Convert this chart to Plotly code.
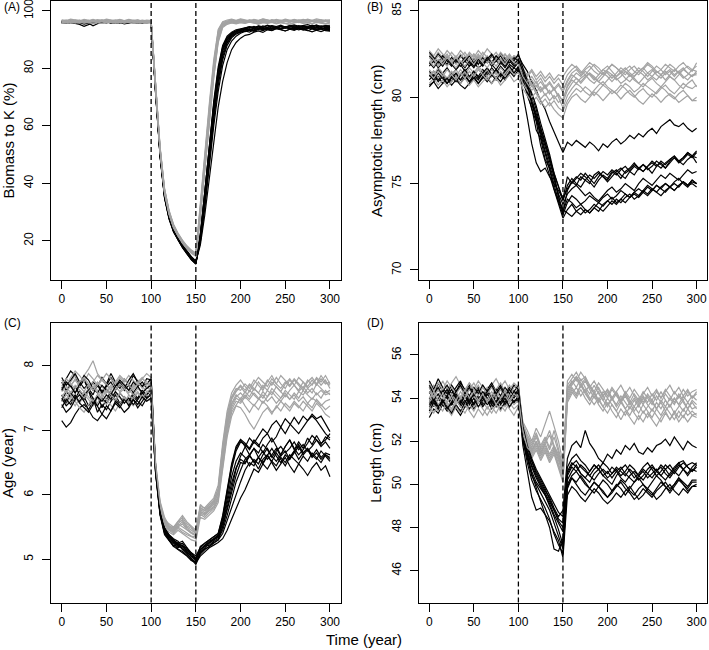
import plotly.graph_objects as go

# ---------------- data (5-year resolution) ----------------
YEARS = [0, 5, 10, 15, 20, 25, 30, 35, 40, 45, 50, 55, 60, 65, 70, 75, 80, 85, 90, 95, 100,
         105, 110, 115, 120, 125, 130, 135, 140, 145, 150,
         155, 160, 165, 170, 175, 180, 185, 190, 195, 200, 205, 210, 215, 220, 225, 230, 235, 240, 245, 250,
         255, 260, 265, 270, 275, 280, 285, 290, 295, 300]

X_TICKS = [0, 50, 100, 150, 200, 250, 300]
PERIOD_LINES = [100, 150]

# (A) Biomass to K (%)
BIOMASS_BLACK = [
    [96.2, 95.9, 96.4, 96.0, 95.7, 96.3, 96.1, 95.8, 96.5, 96.2, 96.0, 95.9, 96.3, 96.1, 95.8, 96.4, 96.0, 96.2, 95.9, 96.3, 96.0,
     71.5, 49.8, 35.2, 28.0, 23.5, 20.6, 18.2, 16.0, 14.1, 12.4,
     22.0, 36.0, 52.0, 67.0, 79.0, 87.0, 90.5, 92.0, 92.8, 93.2, 93.5, 93.2, 94.0, 93.6, 94.2, 93.8, 94.4, 94.0, 93.7, 94.3,
     94.1, 93.9, 94.5, 94.2, 93.8, 94.4, 94.0, 94.6, 94.2, 94.3],
    [95.8, 96.1, 95.6, 96.0, 95.9, 95.4, 95.7, 94.8, 95.5, 96.0, 95.8, 96.2, 95.7, 96.0, 95.5, 95.9, 96.1, 95.7, 96.0, 95.8, 96.1,
     72.0, 50.5, 35.8, 28.4, 23.8, 20.9, 18.0, 15.8, 13.6, 12.0,
     20.5, 33.5, 49.0, 63.5, 75.5, 84.0, 88.8, 91.0, 92.2, 92.7, 92.9, 93.5, 93.1, 93.8, 94.0, 93.5, 93.9, 94.3, 93.6, 94.1,
     93.8, 94.4, 93.9, 93.3, 93.8, 94.2, 93.7, 94.0, 93.5, 93.6],
    [96.5, 96.3, 96.0, 96.6, 96.2, 96.4, 95.9, 96.1, 96.5, 96.3, 96.7, 96.2, 96.4, 96.0, 96.3, 96.6, 96.1, 96.4, 96.2, 96.5, 96.3,
     71.0, 49.2, 34.9, 27.6, 23.1, 20.2, 17.6, 15.5, 13.4, 11.9,
     21.0, 35.0, 51.0, 66.0, 78.0, 86.0, 89.8, 91.6, 92.8, 93.2, 93.6, 94.2, 94.6, 94.0, 94.8, 94.3, 94.9, 94.5, 95.0, 94.4,
     94.8, 95.1, 94.6, 94.9, 95.2, 94.7, 95.0, 94.5, 94.9, 95.0],
    [96.0, 95.7, 96.2, 95.9, 96.3, 96.0, 95.6, 95.9, 96.2, 95.8, 96.1, 96.4, 95.9, 96.2, 96.0, 95.7, 96.3, 96.0, 95.8, 96.1, 95.9,
     72.5, 51.0, 36.5, 29.0, 24.2, 21.3, 18.7, 16.4, 14.3, 12.8,
     18.5, 29.0, 42.0, 55.0, 66.5, 75.5, 82.0, 86.5, 89.0, 90.5, 91.5, 91.8, 92.6, 93.0, 92.5, 93.4, 93.1, 93.8, 93.3, 93.0,
     93.6, 93.2, 93.9, 93.4, 93.1, 93.7, 93.3, 92.8, 93.4, 93.1],
    [96.3, 96.0, 95.8, 96.2, 96.5, 96.1, 95.9, 96.3, 96.0, 96.4, 96.2, 95.8, 96.1, 96.4, 96.0, 96.3, 95.9, 96.2, 96.5, 96.0, 96.2,
     71.8, 50.2, 35.5, 28.2, 23.6, 20.4, 17.9, 15.7, 13.8, 12.2,
     21.5, 35.5, 51.5, 66.5, 78.5, 86.5, 90.0, 92.0, 92.9, 93.3, 93.8, 93.4, 94.1, 94.5, 93.9, 94.3, 94.8, 94.2, 94.6, 94.0,
     94.5, 94.9, 94.3, 94.7, 94.1, 94.6, 95.0, 94.4, 94.8, 94.6],
    [95.9, 96.3, 96.0, 95.7, 95.3, 94.6, 95.2, 95.8, 96.1, 95.9, 96.3, 96.0, 95.7, 96.2, 96.0, 96.4, 95.8, 96.1, 95.9, 96.3, 96.0,
     72.2, 50.8, 36.0, 28.6, 24.0, 21.0, 18.4, 16.2, 14.0, 12.6,
     19.5, 31.5, 46.0, 60.0, 72.0, 81.0, 86.5, 89.5, 91.2, 92.2, 92.8, 93.3, 92.9, 93.5, 93.1, 93.7, 93.2, 93.9, 93.5, 93.0,
     93.6, 94.0, 93.4, 93.8, 93.2, 92.7, 93.3, 93.7, 93.1, 92.9],
    [96.4, 96.1, 96.5, 96.2, 95.9, 96.3, 96.6, 96.1, 96.4, 96.0, 96.3, 96.6, 96.2, 95.9, 96.4, 96.1, 96.5, 96.2, 96.0, 96.4, 96.2,
     71.2, 49.5, 35.0, 27.8, 23.3, 20.3, 17.8, 15.6, 13.5, 12.1,
     22.5, 37.0, 53.5, 68.5, 80.5, 88.0, 91.2, 92.6, 93.4, 93.7, 94.0, 94.4, 94.0, 94.7, 94.3, 94.9, 94.4, 94.0, 94.6, 94.2,
     94.8, 94.3, 94.9, 94.5, 94.1, 94.7, 94.3, 94.8, 94.4, 94.5],
    [96.1, 95.8, 96.3, 96.0, 96.2, 95.9, 96.1, 96.4, 95.8, 96.2, 95.9, 96.3, 96.0, 95.8, 96.2, 96.5, 96.0, 95.8, 96.3, 96.1, 96.1,
     72.6, 51.2, 36.8, 29.3, 24.5, 21.5, 18.9, 16.6, 14.5, 13.0,
     20.0, 32.5, 47.5, 62.0, 74.0, 83.0, 88.0, 90.6, 91.9, 92.6, 93.0, 92.6, 93.4, 93.9, 93.4, 94.0, 93.6, 94.2, 93.8, 94.4,
     93.9, 93.5, 94.1, 93.7, 94.3, 93.8, 94.2, 93.6, 94.0, 93.8],
    [95.7, 96.0, 96.2, 95.8, 96.1, 96.4, 96.0, 95.7, 96.1, 95.9, 96.2, 95.8, 96.1, 96.3, 95.9, 96.2, 96.0, 96.3, 95.9, 96.2, 96.0,
     71.6, 50.0, 35.6, 28.3, 23.9, 20.8, 18.3, 16.1, 14.0, 12.5,
     20.8, 34.0, 49.5, 64.5, 76.5, 85.0, 89.2, 91.3, 92.4, 92.9, 93.2, 93.8, 93.3, 94.0, 93.6, 94.2, 93.7, 94.3, 93.9, 94.5,
     94.0, 93.6, 94.2, 93.8, 94.4, 94.0, 93.5, 94.1, 93.7, 93.5],
    [96.2, 96.5, 96.1, 96.4, 96.0, 96.3, 96.1, 96.5, 96.2, 96.0, 96.4, 96.1, 96.5, 96.2, 95.9, 96.3, 96.6, 96.1, 96.4, 96.2, 96.4,
     71.4, 49.6, 35.3, 28.1, 23.4, 20.5, 18.1, 15.9, 13.9, 12.3,
     21.8, 36.5, 52.5, 67.5, 79.5, 87.5, 90.8, 92.3, 93.1, 93.5, 93.9, 94.5, 94.1, 94.8, 94.4, 95.0, 94.5, 94.1, 94.7, 94.3,
     94.9, 94.5, 94.1, 94.8, 94.4, 95.0, 94.6, 94.2, 94.8, 94.0],
]
BIOMASS_GRAY = [
    [96.5, 96.8, 96.3, 96.9, 96.6, 96.2, 96.7, 96.4, 96.9, 96.5, 96.8, 96.3, 96.6, 97.0, 96.5, 96.8, 96.4, 96.7, 96.3, 96.6, 96.5,
     73.0, 52.0, 37.5, 30.0, 25.2, 22.2, 19.8, 17.8, 16.3, 15.2,
     31.0, 48.5, 65.0, 80.5, 92.0, 95.5, 96.2, 96.6, 96.3, 96.8, 96.4, 96.9, 96.5, 96.2, 96.7, 96.4, 96.9, 96.5, 96.8, 96.3,
     96.6, 97.0, 96.5, 96.8, 96.4, 96.7, 96.3, 96.9, 96.5, 96.6],
    [96.0, 95.7, 96.2, 95.9, 96.4, 96.1, 95.8, 96.3, 96.0, 95.6, 96.1, 96.4, 95.9, 96.2, 95.8, 96.3, 96.0, 95.7, 96.2, 95.9, 96.1,
     72.8, 51.6, 37.0, 29.6, 24.9, 21.9, 19.5, 17.5, 16.0, 15.0,
     29.5, 46.5, 63.0, 78.5, 90.5, 95.0, 95.7, 96.1, 95.8, 96.2, 95.9, 96.4, 96.0, 95.7, 96.2, 95.9, 96.3, 95.8, 96.1, 95.6,
     96.0, 96.4, 95.9, 96.2, 95.8, 96.3, 95.9, 96.1, 95.7, 96.0],
    [96.7, 96.4, 96.9, 96.6, 96.3, 96.8, 96.5, 97.0, 96.6, 96.9, 96.4, 96.7, 96.3, 96.8, 96.5, 96.2, 96.7, 96.9, 96.4, 96.8, 96.6,
     73.4, 52.5, 38.0, 30.4, 25.6, 22.5, 20.1, 18.1, 16.6, 15.6,
     32.0, 50.0, 66.5, 82.0, 93.0, 96.0, 96.5, 96.9, 96.5, 97.0, 96.6, 96.3, 96.8, 96.5, 97.1, 96.7, 96.4, 96.9, 96.5, 96.8,
     96.4, 96.9, 96.6, 97.0, 96.7, 96.3, 96.8, 96.5, 96.9, 96.7],
    [95.8, 96.1, 95.6, 96.0, 95.7, 96.2, 95.9, 95.5, 96.0, 96.3, 95.8, 96.1, 95.7, 96.0, 96.3, 95.9, 95.6, 96.1, 95.8, 96.2, 96.0,
     72.6, 51.3, 36.8, 29.4, 24.7, 21.7, 19.3, 17.3, 15.8, 14.8,
     28.5, 45.0, 61.5, 77.0, 89.5, 94.5, 95.5, 95.9, 95.6, 96.0, 95.7, 96.2, 95.8, 95.5, 96.0, 95.7, 96.1, 95.6, 96.0, 95.8,
     95.4, 95.9, 96.2, 95.7, 96.0, 95.6, 96.1, 95.8, 95.5, 95.9],
    [96.4, 96.7, 96.2, 96.5, 96.8, 96.3, 96.6, 96.1, 96.5, 96.8, 96.4, 96.7, 96.2, 96.6, 96.3, 96.7, 96.4, 96.1, 96.6, 96.3, 96.4,
     73.1, 52.2, 37.7, 30.1, 25.3, 22.3, 19.9, 17.9, 16.4, 15.4,
     30.5, 47.5, 64.0, 79.5, 91.5, 95.3, 96.0, 96.4, 96.1, 96.6, 96.2, 96.7, 96.3, 96.0, 96.5, 96.2, 96.8, 96.4, 96.1, 96.6,
     96.3, 96.8, 96.4, 96.1, 96.7, 96.3, 96.6, 96.2, 96.7, 96.4],
    [96.1, 96.4, 96.0, 96.3, 95.9, 96.5, 96.2, 96.6, 96.1, 96.4, 96.0, 96.3, 96.6, 96.2, 96.5, 96.1, 96.4, 96.0, 96.3, 96.5, 96.2,
     72.9, 51.8, 37.3, 29.8, 25.0, 22.0, 19.6, 17.6, 16.1, 15.1,
     29.0, 46.0, 62.5, 78.0, 90.0, 94.8, 95.8, 96.3, 96.0, 96.5, 96.1, 96.6, 96.2, 95.9, 96.4, 96.1, 96.7, 96.3, 96.0, 96.5,
     96.2, 96.6, 96.1, 96.4, 96.0, 96.5, 96.2, 96.7, 96.3, 96.1],
    [96.9, 96.6, 97.1, 96.8, 96.5, 97.0, 96.7, 96.4, 96.9, 96.6, 97.1, 96.8, 96.5, 96.9, 96.6, 97.0, 96.7, 96.4, 96.8, 96.5, 96.7,
     73.6, 52.8, 38.3, 30.7, 25.8, 22.7, 20.3, 18.3, 16.8, 15.8,
     33.0, 51.0, 67.5, 83.0, 93.5, 96.2, 96.8, 97.1, 96.7, 97.2, 96.8, 96.5, 97.0, 96.7, 97.2, 96.8, 96.5, 97.0, 96.6, 97.1,
     96.7, 96.4, 96.9, 96.6, 97.1, 96.7, 97.2, 96.8, 96.5, 96.9],
    [95.6, 95.9, 96.2, 95.8, 96.1, 95.7, 96.0, 96.3, 95.9, 95.6, 96.0, 96.2, 95.8, 96.1, 95.7, 96.0, 96.3, 95.9, 96.1, 95.7, 95.9,
     72.4, 51.0, 36.5, 29.2, 24.5, 21.6, 19.2, 17.2, 15.7, 14.7,
     28.0, 44.5, 61.0, 76.5, 89.0, 94.2, 95.3, 95.8, 95.5, 95.9, 95.6, 96.1, 95.7, 95.4, 95.9, 95.6, 96.0, 95.5, 95.9, 95.7,
     95.3, 95.8, 96.1, 95.6, 95.9, 95.5, 96.0, 95.7, 95.4, 95.8],
    [96.3, 96.0, 96.5, 96.2, 96.6, 96.3, 96.0, 96.4, 96.7, 96.2, 96.5, 96.1, 96.4, 96.7, 96.3, 96.6, 96.2, 96.5, 96.1, 96.4, 96.3,
     73.2, 52.3, 37.8, 30.2, 25.4, 22.4, 20.0, 18.0, 16.5, 15.5,
     31.5, 49.0, 65.5, 81.0, 92.5, 95.7, 96.3, 96.7, 96.4, 96.9, 96.5, 96.1, 96.6, 96.3, 96.8, 96.4, 96.1, 96.7, 96.3, 96.8,
     96.5, 96.2, 96.7, 96.4, 96.9, 96.5, 96.2, 96.6, 96.3, 96.5],
    [96.6, 96.3, 96.8, 96.4, 96.7, 96.2, 96.5, 96.9, 96.4, 96.7, 96.3, 96.6, 96.9, 96.5, 96.2, 96.7, 96.4, 96.8, 96.5, 96.2, 96.5,
     72.7, 51.5, 36.9, 29.5, 24.8, 21.8, 19.4, 17.4, 15.9, 14.9,
     30.0, 47.0, 63.5, 79.0, 91.0, 95.2, 96.0, 96.5, 96.2, 96.7, 96.3, 96.8, 96.4, 96.1, 96.6, 96.3, 96.9, 96.5, 96.2, 96.7,
     96.4, 96.9, 96.5, 96.2, 96.7, 96.4, 96.8, 96.3, 96.6, 96.4],
]

# (B) Asymptotic length (cm)
LINF_BLACK = [
    [81.2, 81.5, 81.0, 81.4, 81.7, 81.3, 81.6, 81.9, 81.5, 81.8, 82.0, 81.7, 81.9, 82.2, 81.8, 82.1, 81.9, 82.3, 82.0, 82.2, 82.4,
     81.9, 81.5, 80.9, 80.4, 79.8, 79.3, 78.6, 78.0, 77.5, 76.8,
     77.4, 77.2, 77.5, 77.3, 77.1, 77.4, 77.2, 76.9, 77.3, 77.1, 77.4, 77.6, 77.3, 77.5, 77.8, 77.6, 77.9, 77.7, 78.0, 78.2,
     77.9, 78.3, 78.5, 78.7, 78.4, 78.3, 78.5, 78.2, 78.0, 78.2],
    [80.7, 80.9, 81.2, 80.8, 81.1, 80.9, 81.3, 81.0, 81.4, 81.1, 81.5, 81.2, 81.6, 81.3, 81.7, 81.4, 81.8, 81.5, 81.9, 81.7, 82.0,
     80.2, 78.8, 77.3, 76.2, 75.7, 75.9, 75.4, 75.0, 74.6, 74.1,
     74.7, 75.1, 74.9, 75.4, 75.2, 75.0, 75.5, 75.7, 75.4, 75.2, 75.6, 75.8, 75.5, 75.3, 75.7, 76.0, 75.8, 76.1, 75.9, 75.6,
     76.0, 76.2, 75.9, 76.3, 76.5, 76.2, 76.4, 76.7, 76.5, 76.8],
    [81.5, 81.2, 81.6, 81.3, 81.0, 81.4, 81.1, 80.8, 81.2, 80.9, 81.3, 81.0, 81.4, 81.1, 80.8, 81.2, 80.9, 81.3, 81.6, 81.4, 81.8,
     81.0, 80.4, 79.7, 78.9, 78.0, 77.2, 76.2, 75.4, 74.2, 73.4,
     74.1, 73.9, 73.6, 73.8, 73.5, 73.3, 73.6, 73.9, 73.7, 74.0, 74.2, 73.9, 74.1, 74.4, 74.2, 74.5, 74.3, 74.6, 74.9, 74.7,
     74.5, 74.8, 75.0, 74.8, 75.1, 75.3, 75.0, 74.8, 75.1, 75.0],
    [82.4, 82.1, 82.5, 82.2, 81.9, 82.3, 82.0, 82.4, 82.1, 81.8, 82.2, 81.9, 82.3, 82.0, 82.4, 82.1, 82.5, 82.2, 82.0, 82.3, 82.1,
     81.6, 80.9, 80.1, 79.3, 78.2, 77.3, 76.4, 75.6, 74.8, 74.0,
     74.9, 75.3, 75.0, 74.8, 75.2, 75.5, 75.3, 75.6, 75.4, 75.1, 75.4, 75.7, 75.9, 75.6, 75.8, 76.1, 75.9, 75.7, 76.0, 76.2,
     76.0, 76.3, 76.1, 76.4, 76.6, 76.3, 76.5, 76.8, 76.6, 76.5],
    [81.0, 81.3, 80.9, 81.2, 80.8, 81.1, 81.4, 81.0, 81.3, 80.9, 81.2, 80.8, 81.1, 81.5, 81.2, 81.6, 81.3, 81.0, 81.4, 81.7, 81.5,
     80.8, 80.3, 79.3, 78.6, 77.2, 76.3, 75.5, 74.6, 73.8, 73.0,
     73.5, 73.8, 73.4, 73.2, 73.5, 73.3, 73.6, 73.4, 73.8, 74.0, 73.8, 74.1, 73.9, 74.2, 74.4, 74.1, 74.3, 74.6, 74.4, 74.7,
     74.5, 74.3, 74.6, 74.8, 75.0, 74.8, 75.1, 74.9, 75.2, 75.0],
    [82.6, 82.3, 82.0, 82.4, 82.1, 81.8, 82.2, 81.9, 82.3, 82.0, 81.7, 82.1, 81.8, 82.2, 81.9, 81.6, 82.0, 81.7, 82.1, 81.8, 82.0,
     81.2, 80.7, 79.9, 79.0, 78.3, 77.4, 76.5, 75.5, 74.3, 73.3,
     74.6, 75.1, 75.4, 75.2, 75.6, 75.3, 75.0, 75.4, 75.7, 75.5, 75.8, 75.6, 75.3, 75.7, 75.9, 76.2, 75.9, 75.7, 76.0, 76.3,
     76.1, 75.9, 76.2, 76.4, 76.6, 76.3, 76.5, 76.8, 76.6, 76.9],
    [80.6, 80.9, 80.5, 80.8, 81.1, 80.7, 81.0, 80.7, 80.5, 80.8, 81.1, 80.8, 81.2, 80.9, 81.3, 81.0, 81.4, 81.1, 81.5, 81.2, 81.6,
     81.1, 80.1, 79.4, 78.1, 77.6, 76.4, 75.9, 74.9, 74.0, 73.5,
     73.3, 73.1, 73.4, 73.6, 73.3, 73.5, 73.8, 73.6, 73.4, 73.7, 74.0, 73.8, 74.1, 73.9, 74.2, 74.4, 74.2, 74.5, 74.3, 74.6,
     74.9, 74.7, 74.5, 74.8, 74.6, 74.9, 75.1, 74.9, 75.2, 75.0],
    [81.8, 82.1, 81.7, 82.0, 82.3, 81.9, 82.2, 81.8, 82.1, 82.4, 82.0, 82.3, 81.9, 82.2, 82.5, 82.1, 82.4, 82.0, 82.3, 82.1, 82.5,
     81.7, 81.0, 80.2, 79.5, 78.5, 77.6, 76.7, 75.6, 74.9, 74.1,
     75.4, 75.0, 75.3, 75.6, 75.4, 75.1, 74.8, 75.2, 75.5, 75.3, 75.7, 75.5, 75.8, 76.0, 75.7, 75.5, 75.9, 76.1, 75.8, 76.0,
     76.3, 76.1, 75.9, 76.2, 76.5, 76.3, 76.1, 76.4, 76.6, 76.2],
    [81.3, 81.0, 81.4, 81.1, 80.8, 81.2, 80.9, 81.3, 81.6, 81.2, 81.5, 81.1, 81.4, 81.7, 81.3, 81.6, 81.2, 81.5, 81.8, 81.4, 81.7,
     81.3, 80.6, 79.8, 78.7, 77.9, 76.9, 76.0, 75.2, 74.4, 73.8,
     74.4, 74.7, 74.9, 74.6, 74.3, 74.5, 74.2, 74.0, 74.3, 74.6, 74.8, 74.5, 74.7, 75.0, 74.8, 74.6, 75.0, 75.3, 75.1, 74.9,
     75.2, 75.5, 75.3, 75.6, 75.4, 75.2, 75.5, 75.8, 75.6, 75.7],
    [82.0, 81.7, 82.1, 81.8, 82.2, 81.9, 81.6, 82.0, 81.7, 82.1, 81.8, 82.2, 81.9, 82.3, 82.0, 82.4, 82.1, 81.8, 82.2, 81.9, 82.2,
     81.5, 80.8, 79.6, 78.8, 77.7, 76.8, 75.8, 74.7, 73.9, 73.2,
     73.9, 74.3, 74.1, 73.8, 74.0, 74.3, 74.1, 73.9, 74.2, 74.4, 74.1, 74.3, 74.6, 74.4, 74.2, 74.5, 74.7, 74.5, 74.8, 74.6,
     74.9, 74.7, 75.0, 74.8, 74.6, 74.9, 75.1, 74.9, 75.0, 74.8],
]
LINF_GRAY = [
    [82.5, 82.2, 82.6, 82.3, 82.7, 82.4, 82.1, 82.5, 82.2, 82.6, 82.3, 82.7, 82.4, 82.8, 82.5, 82.2, 82.6, 82.3, 82.0, 82.4, 82.2,
     81.7, 81.2, 81.5, 81.0, 81.3, 80.9, 81.2, 80.8, 81.1, 80.7,
     81.3, 81.6, 81.8, 81.5, 81.3, 81.6, 81.9, 81.7, 81.4, 81.6, 81.9, 81.7, 81.5, 81.3, 81.6, 81.8, 81.5, 81.7, 82.0, 81.8,
     81.5, 81.3, 81.6, 81.9, 81.7, 81.4, 81.6, 81.8, 81.6, 81.8],
    [82.0, 82.3, 81.9, 82.2, 82.5, 82.1, 82.4, 82.0, 82.3, 81.9, 82.2, 82.5, 82.1, 82.4, 82.0, 82.3, 81.9, 82.2, 82.5, 82.1, 82.0,
     81.4, 81.0, 80.6, 80.9, 80.4, 80.7, 80.2, 80.5, 80.0, 79.4,
     80.1, 80.5, 80.8, 80.6, 80.3, 80.1, 80.4, 80.7, 80.9, 80.6, 80.4, 80.2, 80.5, 80.8, 80.6, 80.3, 80.5, 80.8, 80.6, 80.4,
     80.2, 80.5, 80.7, 80.4, 80.2, 80.5, 80.8, 80.6, 80.5, 80.7],
    [81.6, 81.3, 81.7, 81.4, 81.1, 81.5, 81.2, 81.6, 81.3, 81.7, 81.4, 81.8, 81.5, 81.2, 81.6, 81.3, 81.7, 81.4, 81.8, 81.5, 81.6,
     81.0, 80.5, 80.8, 80.3, 80.6, 80.1, 80.4, 79.9, 80.2, 79.7,
     80.4, 80.8, 81.1, 80.9, 81.2, 81.4, 81.1, 80.9, 81.2, 81.5, 81.3, 81.0, 81.2, 81.5, 81.3, 81.0, 80.8, 81.1, 81.4, 81.2,
     81.0, 81.3, 81.5, 81.2, 81.0, 81.3, 81.6, 81.4, 81.2, 81.4],
    [82.7, 82.4, 82.8, 82.5, 82.2, 82.6, 82.3, 82.7, 82.4, 82.1, 82.5, 82.2, 82.6, 82.3, 82.0, 82.4, 82.1, 82.5, 82.2, 81.9, 82.1,
     81.5, 81.1, 80.7, 80.2, 79.8, 79.4, 79.7, 79.3, 79.0, 78.8,
     79.6, 80.0, 80.2, 79.9, 79.7, 80.0, 80.3, 80.1, 79.8, 80.1, 80.4, 80.2, 79.9, 80.2, 80.4, 80.1, 79.8, 79.6, 79.9, 80.2,
     80.0, 79.7, 80.0, 80.2, 80.0, 79.7, 79.9, 80.1, 79.8, 79.8],
    [81.2, 81.5, 81.1, 81.4, 81.0, 81.3, 81.6, 81.2, 81.5, 81.1, 81.4, 81.7, 81.3, 81.6, 81.2, 81.5, 81.1, 81.4, 81.7, 81.3, 81.5,
     81.1, 80.7, 81.0, 80.6, 80.9, 80.5, 80.8, 80.4, 80.7, 80.3,
     80.9, 81.3, 81.1, 80.8, 81.1, 81.4, 81.2, 80.9, 80.7, 81.0, 81.3, 81.1, 80.8, 81.0, 81.3, 81.1, 80.8, 80.6, 80.9, 81.1,
     80.8, 80.6, 80.9, 81.2, 81.0, 80.7, 80.5, 80.8, 81.0, 80.6],
    [82.3, 82.0, 82.4, 82.1, 81.8, 82.2, 81.9, 82.3, 82.6, 82.2, 82.5, 82.1, 82.4, 82.0, 82.3, 82.6, 82.2, 82.5, 82.1, 82.4, 82.3,
     81.6, 81.3, 81.6, 81.2, 81.5, 81.1, 81.4, 81.0, 81.3, 81.2,
     81.6, 81.9, 81.7, 81.4, 81.7, 82.0, 81.8, 81.5, 81.3, 81.6, 81.9, 81.7, 81.4, 81.6, 81.8, 81.5, 81.3, 81.6, 81.9, 81.7,
     81.4, 81.6, 81.9, 81.7, 81.5, 81.8, 82.0, 81.7, 81.5, 82.0],
    [80.8, 81.1, 80.7, 81.0, 80.6, 80.9, 81.2, 80.8, 81.1, 80.7, 81.0, 80.6, 80.9, 81.2, 80.8, 81.1, 80.7, 81.0, 81.3, 80.9, 81.1,
     80.5, 80.1, 79.7, 80.0, 79.6, 79.9, 79.5, 79.8, 79.4, 79.2,
     79.8, 80.2, 80.5, 80.3, 80.6, 80.4, 80.1, 80.4, 80.7, 80.5, 80.2, 80.4, 80.7, 80.5, 80.2, 80.0, 80.3, 80.5, 80.2, 80.0,
     80.3, 80.6, 80.4, 80.1, 79.9, 80.2, 80.4, 80.1, 79.8, 80.0],
    [81.9, 82.2, 81.8, 82.1, 82.4, 82.0, 82.3, 81.9, 82.2, 82.5, 82.1, 82.4, 82.0, 82.3, 81.9, 82.2, 82.5, 82.1, 82.4, 82.0, 82.2,
     81.3, 80.9, 81.2, 80.8, 81.1, 80.6, 80.9, 80.5, 80.8, 80.4,
     81.0, 81.4, 81.6, 81.3, 81.6, 81.8, 81.5, 81.3, 81.6, 81.8, 81.5, 81.2, 81.5, 81.7, 81.4, 81.2, 81.5, 81.7, 81.4, 81.6,
     81.3, 81.1, 81.4, 81.6, 81.3, 81.5, 81.2, 81.0, 81.3, 81.3],
    [81.4, 81.1, 81.5, 81.2, 81.6, 81.3, 81.0, 81.4, 81.1, 81.5, 81.2, 81.6, 81.3, 81.0, 81.4, 81.1, 81.5, 81.2, 81.6, 81.3, 81.4,
     80.8, 80.4, 80.0, 80.3, 79.9, 80.2, 79.8, 80.1, 79.7, 79.9,
     80.6, 81.0, 80.8, 81.1, 81.3, 81.0, 80.8, 81.1, 81.4, 81.2, 80.9, 81.2, 81.4, 81.1, 80.9, 81.2, 81.5, 81.3, 81.0, 81.2,
     81.5, 81.3, 81.0, 81.3, 81.6, 81.4, 81.1, 81.3, 81.6, 81.5],
    [82.1, 81.8, 82.2, 81.9, 82.3, 82.0, 81.7, 82.1, 81.8, 82.2, 81.9, 82.3, 82.0, 81.7, 82.1, 81.8, 82.2, 81.9, 82.3, 82.0, 81.9,
     81.2, 80.8, 80.4, 80.7, 80.3, 80.6, 80.2, 80.5, 80.1, 79.8,
     80.7, 81.1, 81.4, 81.2, 81.5, 81.3, 81.0, 81.3, 81.6, 81.4, 81.1, 81.4, 81.7, 81.5, 81.2, 81.4, 81.7, 81.5, 81.2, 81.5,
     81.8, 81.6, 81.3, 81.5, 81.2, 81.5, 81.7, 81.4, 81.2, 81.5],
]

# (C) Age (year)
AGE_BLACK = [
    [7.15, 7.05, 7.12, 7.25, 7.35, 7.40, 7.32, 7.45, 7.38, 7.50, 7.42, 7.55, 7.48, 7.40, 7.52, 7.45, 7.58, 7.50, 7.62, 7.55, 7.65,
     6.40, 5.75, 5.45, 5.35, 5.30, 5.22, 5.25, 5.15, 5.10, 5.00,
     5.15, 5.22, 5.28, 5.32, 5.38, 5.62, 6.02, 6.40, 6.68, 6.82, 6.78, 6.70, 6.82, 6.75, 6.88, 6.95, 6.82, 6.90, 7.05, 6.95,
     7.08, 7.20, 7.10, 7.22, 7.15, 7.25, 7.18, 7.22, 7.10, 6.98],
    [7.45, 7.60, 7.52, 7.68, 7.55, 7.48, 7.62, 7.40, 7.55, 7.35, 7.48, 7.60, 7.45, 7.58, 7.50, 7.42, 7.55, 7.48, 7.62, 7.50, 7.58,
     6.35, 5.70, 5.40, 5.30, 5.20, 5.25, 5.15, 5.08, 5.02, 4.95,
     5.10, 5.18, 5.25, 5.30, 5.34, 5.50, 5.78, 6.05, 6.30, 6.50, 6.48, 6.60, 6.52, 6.40, 6.55, 6.62, 6.50, 6.38, 6.48, 6.58,
     6.45, 6.35, 6.48, 6.40, 6.30, 6.42, 6.50, 6.38, 6.45, 6.28],
    [7.65, 7.80, 7.92, 7.85, 7.70, 7.78, 7.62, 7.75, 7.68, 7.82, 7.72, 7.88, 7.75, 7.65, 7.80, 7.70, 7.85, 7.75, 7.68, 7.80, 7.78,
     6.45, 5.80, 5.50, 5.38, 5.32, 5.28, 5.20, 5.18, 5.05, 4.98,
     5.20, 5.25, 5.30, 5.35, 5.40, 5.68, 6.10, 6.48, 6.75, 6.86, 6.80, 6.72, 6.85, 6.78, 6.65, 6.78, 6.88, 6.75, 6.62, 6.75,
     6.85, 6.70, 6.82, 6.72, 6.88, 6.78, 6.92, 6.80, 6.85, 6.95],
    [7.55, 7.42, 7.58, 7.48, 7.62, 7.52, 7.38, 7.50, 7.28, 7.40, 7.32, 7.45, 7.55, 7.42, 7.50, 7.38, 7.48, 7.35, 7.45, 7.55, 7.62,
     6.38, 5.72, 5.42, 5.32, 5.25, 5.18, 5.22, 5.12, 5.05, 5.02,
     5.12, 5.20, 5.22, 5.28, 5.32, 5.45, 5.68, 5.95, 6.20, 6.38, 6.55, 6.62, 6.50, 6.58, 6.68, 6.55, 6.62, 6.72, 6.60, 6.68,
     6.55, 6.65, 6.75, 6.62, 6.70, 6.58, 6.65, 6.55, 6.62, 6.58],
    [7.75, 7.62, 7.70, 7.58, 7.68, 7.78, 7.65, 7.55, 7.72, 7.60, 7.70, 7.82, 7.68, 7.75, 7.62, 7.70, 7.58, 7.68, 7.75, 7.65, 7.72,
     6.42, 5.78, 5.48, 5.38, 5.30, 5.25, 5.28, 5.18, 5.10, 5.05,
     5.18, 5.25, 5.30, 5.35, 5.40, 5.65, 6.05, 6.45, 6.72, 6.85, 6.75, 6.62, 6.72, 6.58, 6.48, 6.60, 6.52, 6.65, 6.55, 6.45,
     6.58, 6.68, 6.55, 6.65, 6.72, 6.60, 6.70, 6.58, 6.65, 6.62],
    [7.35, 7.48, 7.40, 7.52, 7.45, 7.55, 7.62, 7.50, 7.38, 7.25, 7.18, 7.30, 7.42, 7.35, 7.48, 7.40, 7.52, 7.45, 7.38, 7.50, 7.55,
     6.36, 5.74, 5.44, 5.35, 5.28, 5.20, 5.18, 5.10, 5.00, 4.92,
     5.08, 5.15, 5.20, 5.25, 5.30, 5.50, 5.80, 6.12, 6.40, 6.60, 6.75, 6.88, 6.80, 6.92, 7.02, 6.95, 7.08, 7.15, 7.05, 7.18,
     7.10, 7.02, 6.95, 7.05, 7.15, 7.22, 7.15, 7.05, 6.95, 6.88],
    [7.82, 7.70, 7.78, 7.88, 7.75, 7.65, 7.72, 7.62, 7.70, 7.58, 7.68, 7.75, 7.62, 7.72, 7.65, 7.78, 7.88, 7.75, 7.68, 7.72, 7.80,
     6.44, 5.76, 5.46, 5.36, 5.30, 5.24, 5.20, 5.14, 5.08, 5.02,
     5.15, 5.20, 5.25, 5.30, 5.36, 5.55, 5.85, 6.18, 6.42, 6.55, 6.50, 6.62, 6.72, 6.65, 6.78, 6.70, 6.58, 6.68, 6.75, 6.65,
     6.72, 6.82, 6.70, 6.78, 6.68, 6.75, 6.85, 6.78, 6.90, 6.85],
    [7.50, 7.38, 7.45, 7.55, 7.42, 7.35, 7.28, 7.40, 7.52, 7.45, 7.55, 7.48, 7.60, 7.52, 7.42, 7.50, 7.40, 7.48, 7.58, 7.50, 7.55,
     6.33, 5.68, 5.38, 5.28, 5.20, 5.15, 5.10, 5.05, 4.98, 4.95,
     5.05, 5.12, 5.18, 5.22, 5.26, 5.32, 5.45, 5.62, 5.80, 5.95, 6.08, 6.25, 6.40, 6.35, 6.48, 6.40, 6.52, 6.45, 6.58, 6.50,
     6.62, 6.55, 6.48, 6.60, 6.52, 6.65, 6.58, 6.50, 6.62, 6.55],
    [7.62, 7.75, 7.68, 7.58, 7.72, 7.85, 7.78, 7.65, 7.58, 7.70, 7.62, 7.55, 7.68, 7.78, 7.70, 7.62, 7.75, 7.68, 7.58, 7.65, 7.70,
     6.40, 5.74, 5.45, 5.34, 5.26, 5.22, 5.16, 5.12, 5.04, 5.00,
     5.15, 5.22, 5.26, 5.32, 5.36, 5.58, 5.95, 6.28, 6.52, 6.65, 6.58, 6.45, 6.55, 6.48, 6.62, 6.72, 6.60, 6.52, 6.62, 6.75,
     6.85, 6.72, 6.62, 6.70, 6.80, 6.92, 6.85, 6.75, 6.82, 6.72],
    [7.40, 7.28, 7.35, 7.48, 7.55, 7.45, 7.32, 7.20, 7.15, 7.25, 7.38, 7.30, 7.45, 7.38, 7.28, 7.35, 7.48, 7.40, 7.52, 7.45, 7.50,
     6.34, 5.70, 5.42, 5.30, 5.22, 5.16, 5.12, 5.06, 4.98, 4.96,
     5.10, 5.16, 5.20, 5.26, 5.30, 5.40, 5.60, 5.82, 6.02, 6.20, 6.38, 6.50, 6.45, 6.58, 6.50, 6.62, 6.72, 6.60, 6.50, 6.62,
     6.55, 6.68, 6.78, 6.65, 6.72, 6.62, 6.55, 6.68, 6.60, 6.52],
]
AGE_GRAY = [
    [7.62, 7.75, 7.68, 7.80, 7.72, 7.85, 7.95, 8.08, 7.88, 7.78, 7.70, 7.82, 7.75, 7.65, 7.72, 7.62, 7.70, 7.78, 7.68, 7.60, 7.65,
     6.45, 5.85, 5.58, 5.50, 5.45, 5.55, 5.62, 5.52, 5.48, 5.40,
     5.80, 5.75, 5.82, 5.88, 6.02, 6.62, 7.15, 7.48, 7.60, 7.68, 7.58, 7.70, 7.62, 7.75, 7.65, 7.78, 7.70, 7.82, 7.72, 7.65,
     7.78, 7.70, 7.82, 7.75, 7.65, 7.72, 7.80, 7.70, 7.78, 7.65],
    [7.55, 7.48, 7.60, 7.52, 7.42, 7.55, 7.48, 7.38, 7.50, 7.62, 7.55, 7.45, 7.58, 7.50, 7.42, 7.55, 7.48, 7.40, 7.52, 7.45, 7.50,
     6.40, 5.80, 5.55, 5.45, 5.40, 5.48, 5.42, 5.38, 5.35, 5.32,
     5.70, 5.65, 5.72, 5.78, 5.92, 6.45, 6.95, 7.28, 7.40, 7.50, 7.38, 7.28, 7.40, 7.32, 7.45, 7.38, 7.28, 7.35, 7.45, 7.38,
     7.30, 7.42, 7.35, 7.45, 7.38, 7.30, 7.42, 7.35, 7.25, 7.20],
    [7.70, 7.62, 7.75, 7.85, 7.72, 7.80, 7.68, 7.75, 7.85, 7.78, 7.70, 7.62, 7.75, 7.68, 7.80, 7.72, 7.65, 7.75, 7.82, 7.70, 7.75,
     6.48, 5.88, 5.62, 5.55, 5.50, 5.60, 5.68, 5.58, 5.52, 5.45,
     5.85, 5.78, 5.85, 5.92, 6.10, 6.75, 7.25, 7.52, 7.65, 7.62, 7.72, 7.65, 7.78, 7.70, 7.62, 7.75, 7.85, 7.72, 7.65, 7.75,
     7.68, 7.78, 7.70, 7.62, 7.75, 7.82, 7.72, 7.85, 7.75, 7.70],
    [7.48, 7.40, 7.52, 7.45, 7.35, 7.28, 7.40, 7.50, 7.42, 7.55, 7.48, 7.38, 7.30, 7.42, 7.52, 7.45, 7.38, 7.48, 7.55, 7.50, 7.45,
     6.38, 5.78, 5.52, 5.42, 5.38, 5.45, 5.40, 5.35, 5.30, 5.28,
     5.65, 5.62, 5.68, 5.75, 5.88, 6.40, 6.90, 7.22, 7.38, 7.35, 7.25, 7.12, 7.02, 7.15, 7.28, 7.35, 7.25, 7.38, 7.30, 7.42,
     7.35, 7.45, 7.38, 7.30, 7.42, 7.35, 7.48, 7.40, 7.32, 7.38],
    [7.60, 7.68, 7.58, 7.70, 7.62, 7.55, 7.65, 7.72, 7.62, 7.55, 7.65, 7.58, 7.68, 7.60, 7.70, 7.62, 7.55, 7.65, 7.58, 7.68, 7.62,
     6.42, 5.82, 5.57, 5.48, 5.44, 5.52, 5.58, 5.48, 5.42, 5.38,
     5.75, 5.70, 5.78, 5.85, 5.98, 6.55, 7.08, 7.40, 7.52, 7.58, 7.50, 7.62, 7.55, 7.48, 7.60, 7.52, 7.65, 7.58, 7.50, 7.62,
     7.55, 7.48, 7.60, 7.68, 7.58, 7.65, 7.55, 7.62, 7.55, 7.58],
    [7.78, 7.70, 7.82, 7.92, 7.85, 7.75, 7.88, 7.80, 7.70, 7.78, 7.88, 7.80, 7.72, 7.82, 7.75, 7.85, 7.78, 7.70, 7.80, 7.88, 7.82,
     6.50, 5.90, 5.65, 5.52, 5.48, 5.58, 5.65, 5.55, 5.50, 5.42,
     5.82, 5.80, 5.88, 5.95, 6.15, 6.80, 7.30, 7.58, 7.70, 7.78, 7.68, 7.60, 7.72, 7.82, 7.75, 7.68, 7.80, 7.72, 7.85, 7.78,
     7.70, 7.80, 7.72, 7.65, 7.78, 7.70, 7.82, 7.75, 7.85, 7.72],
    [7.45, 7.55, 7.48, 7.38, 7.50, 7.60, 7.52, 7.45, 7.55, 7.48, 7.40, 7.52, 7.45, 7.58, 7.50, 7.42, 7.52, 7.60, 7.48, 7.55, 7.52,
     6.38, 5.80, 5.54, 5.46, 5.42, 5.50, 5.45, 5.40, 5.36, 5.35,
     5.72, 5.68, 5.75, 5.80, 5.95, 6.50, 7.00, 7.32, 7.45, 7.42, 7.52, 7.45, 7.38, 7.48, 7.55, 7.45, 7.52, 7.42, 7.50, 7.58,
     7.48, 7.55, 7.45, 7.52, 7.42, 7.50, 7.45, 7.38, 7.45, 7.48],
    [7.65, 7.58, 7.70, 7.78, 7.68, 7.60, 7.72, 7.65, 7.75, 7.68, 7.58, 7.70, 7.62, 7.72, 7.65, 7.58, 7.68, 7.75, 7.65, 7.72, 7.68,
     6.44, 5.84, 5.60, 5.50, 5.46, 5.55, 5.50, 5.45, 5.40, 5.36,
     5.78, 5.72, 5.80, 5.86, 6.05, 6.62, 7.12, 7.42, 7.55, 7.48, 7.60, 7.52, 7.65, 7.58, 7.50, 7.62, 7.55, 7.68, 7.60, 7.52,
     7.62, 7.70, 7.60, 7.55, 7.65, 7.58, 7.72, 7.65, 7.58, 7.62],
    [7.52, 7.62, 7.55, 7.45, 7.58, 7.50, 7.60, 7.68, 7.58, 7.50, 7.62, 7.55, 7.48, 7.58, 7.65, 7.55, 7.48, 7.58, 7.50, 7.60, 7.58,
     6.40, 5.82, 5.56, 5.47, 5.43, 5.50, 5.55, 5.46, 5.40, 5.37,
     5.74, 5.70, 5.76, 5.82, 5.96, 6.52, 7.05, 7.36, 7.50, 7.45, 7.55, 7.48, 7.58, 7.50, 7.42, 7.52, 7.60, 7.52, 7.45, 7.55,
     7.48, 7.58, 7.50, 7.62, 7.55, 7.48, 7.58, 7.50, 7.62, 7.55],
    [7.72, 7.80, 7.72, 7.65, 7.75, 7.82, 7.72, 7.62, 7.70, 7.80, 7.72, 7.65, 7.75, 7.85, 7.78, 7.70, 7.62, 7.72, 7.80, 7.75, 7.70,
     6.46, 5.86, 5.60, 5.52, 5.48, 5.58, 5.60, 5.50, 5.45, 5.40,
     5.80, 5.76, 5.84, 5.90, 6.08, 6.70, 7.20, 7.50, 7.62, 7.70, 7.62, 7.72, 7.65, 7.58, 7.70, 7.62, 7.75, 7.68, 7.60, 7.72,
     7.80, 7.70, 7.62, 7.75, 7.68, 7.78, 7.70, 7.80, 7.72, 7.75],
]

# (D) Length (cm)
LENGTH_BLACK = [
    [53.8, 54.2, 53.9, 54.4, 54.0, 53.7, 54.1, 53.8, 54.3, 53.9, 54.2, 53.8, 54.1, 54.4, 54.0, 53.7, 54.1, 53.8, 54.2, 54.0, 54.3,
     52.4, 51.6, 51.0, 50.5, 50.1, 49.7, 49.4, 48.9, 48.5, 48.8,
     51.2, 51.8, 52.0, 51.7, 52.5, 51.9, 51.6, 51.2, 51.0, 51.4, 51.2, 51.6, 51.4, 51.8, 51.6, 51.9, 51.5, 51.4, 51.7, 51.5,
     51.8, 51.9, 52.1, 51.8, 52.2, 51.9, 51.6, 52.0, 51.8, 51.7],
    [53.1, 53.5, 53.3, 53.7, 53.4, 53.8, 53.5, 53.2, 53.6, 53.9, 53.5, 53.8, 54.0, 53.7, 53.9, 54.2, 53.8, 54.1, 53.9, 54.2, 54.0,
     52.2, 51.3, 50.6, 50.1, 49.8, 49.5, 49.0, 48.5, 47.9, 47.2,
     50.2, 50.6, 50.9, 50.5, 50.3, 50.1, 50.5, 50.7, 50.4, 50.2, 50.0, 50.4, 50.7, 50.9, 50.6, 50.3, 50.5, 50.8, 51.0, 50.7,
     50.4, 50.6, 50.9, 50.7, 50.5, 50.8, 51.0, 50.8, 50.6, 50.9],
    [54.5, 54.1, 54.7, 54.3, 54.6, 54.2, 54.5, 54.8, 54.3, 54.6, 54.2, 54.5, 54.1, 54.4, 54.7, 54.3, 54.6, 54.2, 54.5, 54.3, 54.6,
     52.6, 51.4, 50.5, 49.8, 49.2, 48.6, 48.0, 47.0, 46.9, 47.5,
     49.8, 50.3, 50.0, 49.7, 49.5, 49.8, 50.1, 49.9, 49.6, 49.4, 49.7, 50.0, 49.8, 49.5, 49.8, 50.1, 50.3, 50.0, 49.8, 50.1,
     50.4, 50.2, 49.9, 49.7, 50.0, 50.3, 50.1, 49.9, 50.2, 50.2],
    [54.0, 53.6, 54.0, 53.7, 54.1, 53.8, 54.2, 53.9, 53.6, 54.0, 53.7, 54.1, 53.8, 54.2, 53.9, 53.6, 54.0, 54.3, 53.9, 54.2, 54.1,
     51.8, 50.6, 49.4, 48.8, 48.9, 48.6, 48.3, 47.8, 47.4, 46.6,
     49.5, 49.9, 49.7, 49.4, 49.2, 49.5, 49.8, 49.6, 49.3, 49.1, 49.3, 49.6, 49.4, 49.7, 49.9, 49.6, 49.3, 49.5, 49.8, 49.6,
     49.3, 49.5, 49.8, 50.0, 49.7, 49.5, 49.8, 49.6, 49.9, 50.0],
    [53.6, 53.9, 53.5, 53.8, 54.1, 53.7, 54.0, 53.6, 53.9, 53.5, 53.8, 54.1, 53.7, 54.0, 53.6, 53.9, 53.5, 53.8, 54.2, 53.8, 54.0,
     52.3, 51.5, 50.8, 50.3, 49.9, 49.5, 49.1, 48.6, 48.2, 47.8,
     50.5, 50.9, 51.1, 50.8, 50.6, 50.4, 50.7, 50.9, 50.6, 50.3, 50.5, 50.8, 50.6, 50.4, 50.7, 50.5, 50.2, 50.4, 50.7, 50.9,
     50.6, 50.4, 50.7, 50.9, 50.6, 50.4, 50.7, 50.9, 51.0, 50.9],
    [54.8, 54.4, 54.9, 54.5, 54.2, 54.6, 54.3, 54.7, 54.4, 54.1, 54.5, 54.2, 54.6, 54.3, 54.0, 54.4, 54.1, 54.5, 54.2, 54.6, 54.4,
     52.5, 51.7, 51.1, 50.6, 50.2, 49.8, 49.3, 48.8, 48.3, 48.0,
     50.8, 51.2, 51.4, 51.1, 50.9, 50.6, 50.9, 50.7, 50.4, 50.6, 50.3, 50.6, 50.8, 50.5, 50.3, 50.1, 50.4, 50.6, 50.3, 50.5,
     50.7, 50.4, 50.2, 50.5, 50.8, 51.0, 50.7, 50.5, 50.8, 51.0],
    [53.4, 53.8, 53.5, 53.9, 53.6, 53.3, 53.7, 53.4, 53.8, 54.1, 53.7, 54.0, 53.6, 53.9, 53.5, 53.8, 54.1, 53.7, 54.0, 53.8, 54.1,
     52.0, 51.2, 50.4, 50.0, 49.6, 49.2, 48.8, 48.2, 47.6, 47.0,
     49.9, 50.3, 50.1, 50.4, 50.1, 49.8, 49.6, 49.9, 49.7, 49.4, 49.6, 49.9, 50.1, 49.8, 49.6, 49.3, 49.5, 49.8, 49.6, 49.4,
     49.7, 49.9, 50.1, 49.8, 50.0, 50.3, 50.0, 49.8, 50.1, 50.1],
    [54.3, 53.9, 54.2, 53.8, 54.1, 54.4, 54.0, 53.7, 54.1, 53.8, 54.2, 53.9, 54.3, 54.0, 53.7, 54.1, 53.8, 54.2, 53.9, 54.3, 54.2,
     52.4, 51.5, 50.9, 50.4, 50.0, 49.6, 49.2, 48.8, 48.4, 48.2,
     50.6, 51.0, 50.8, 50.5, 50.3, 50.6, 50.9, 50.7, 51.0, 50.8, 50.5, 50.7, 50.4, 50.6, 50.9, 50.7, 50.4, 50.2, 50.5, 50.8,
     50.6, 50.9, 50.7, 50.4, 50.7, 51.0, 51.1, 50.8, 50.6, 50.8],
    [53.7, 54.0, 53.6, 53.9, 53.5, 53.8, 54.2, 53.8, 54.1, 53.7, 54.0, 53.6, 53.9, 54.2, 53.8, 54.1, 53.7, 54.0, 53.6, 53.9, 53.9,
     52.1, 51.0, 50.2, 49.7, 49.3, 48.9, 48.4, 47.7, 47.2, 46.8,
     50.0, 50.4, 50.6, 50.3, 50.0, 49.8, 50.1, 49.9, 50.2, 50.0, 49.7, 49.9, 50.2, 50.0, 49.7, 49.5, 49.8, 50.0, 49.7, 49.5,
     49.8, 50.1, 49.9, 49.6, 49.9, 50.2, 50.0, 49.7, 49.9, 49.9],
    [54.6, 54.2, 54.5, 54.1, 54.4, 54.0, 54.3, 54.6, 54.2, 54.5, 54.1, 54.4, 54.0, 54.3, 54.6, 54.2, 54.5, 54.1, 54.4, 54.1, 54.4,
     52.7, 51.8, 51.2, 50.7, 50.3, 49.9, 49.5, 49.1, 48.7, 48.5,
     50.4, 50.8, 50.6, 50.9, 50.7, 50.4, 50.2, 50.5, 50.7, 50.5, 50.8, 50.6, 50.3, 50.1, 50.4, 50.6, 50.4, 50.7, 50.5, 50.3,
     50.6, 50.8, 50.5, 50.3, 50.6, 50.9, 50.7, 50.4, 50.7, 50.6],
]
LENGTH_GRAY = [
    [54.2, 54.6, 54.3, 54.8, 54.4, 54.7, 55.0, 54.6, 54.3, 54.7, 54.4, 54.8, 54.5, 54.2, 54.6, 54.9, 54.5, 54.8, 54.4, 54.7, 54.5,
     52.8, 52.3, 51.9, 52.4, 51.8, 52.2, 51.7, 52.5, 51.6, 50.8,
     54.6, 54.9, 55.2, 54.8, 55.0, 54.6, 54.3, 54.7, 54.4, 54.1, 54.5, 54.2, 53.9, 54.3, 54.0, 54.4, 54.1, 53.8, 54.2, 53.9,
     54.3, 54.0, 54.4, 54.1, 53.8, 54.2, 53.9, 54.3, 54.0, 54.2],
    [53.5, 53.9, 53.6, 54.0, 53.7, 53.4, 53.8, 54.1, 53.7, 54.0, 53.6, 53.9, 54.2, 53.8, 54.1, 53.7, 54.0, 53.6, 53.9, 53.7, 53.9,
     52.5, 51.9, 51.4, 51.8, 51.3, 51.7, 51.2, 51.6, 51.0, 50.3,
     54.0, 54.4, 54.1, 54.6, 54.2, 53.9, 54.3, 53.9, 53.6, 54.0, 53.7, 53.4, 53.8, 53.5, 53.2, 53.6, 53.3, 53.7, 53.4, 53.1,
     53.5, 53.2, 53.6, 53.3, 53.0, 53.4, 53.1, 53.5, 53.2, 53.3],
    [54.0, 54.4, 54.1, 54.5, 54.2, 53.9, 54.3, 54.0, 54.4, 54.7, 54.3, 54.6, 54.2, 54.5, 54.1, 54.4, 54.7, 54.3, 54.6, 54.2, 54.4,
     52.9, 52.5, 52.0, 52.6, 52.2, 52.8, 53.4, 52.7, 52.0, 51.0,
     54.8, 55.1, 54.8, 55.2, 54.9, 54.5, 54.8, 54.4, 54.1, 54.4, 54.0, 54.3, 54.6, 54.2, 54.5, 54.1, 53.8, 54.2, 54.5, 54.1,
     54.4, 54.0, 54.3, 54.6, 54.2, 54.5, 54.1, 54.4, 54.0, 54.3],
    [53.3, 53.7, 53.4, 53.8, 53.5, 53.2, 53.6, 53.3, 53.7, 53.4, 53.1, 53.5, 53.2, 53.6, 53.3, 53.7, 53.4, 53.8, 53.5, 53.2, 53.6,
     52.4, 51.6, 51.2, 51.6, 51.1, 51.5, 51.0, 51.4, 50.8, 50.1,
     53.8, 54.2, 54.5, 54.1, 54.4, 54.0, 53.7, 54.0, 53.6, 53.3, 53.7, 53.4, 53.0, 53.4, 53.1, 52.8, 53.2, 52.9, 53.3, 53.0,
     52.7, 53.1, 53.4, 53.0, 53.3, 52.9, 53.2, 52.9, 53.2, 53.1],
    [54.5, 54.1, 54.4, 54.0, 54.3, 54.6, 54.2, 54.5, 54.1, 54.4, 54.7, 54.3, 54.6, 54.2, 54.5, 54.1, 54.4, 54.0, 54.3, 54.6, 54.3,
     52.7, 52.1, 51.7, 52.2, 51.6, 52.0, 52.5, 51.8, 51.4, 50.5,
     54.4, 54.8, 54.5, 54.9, 54.5, 54.2, 54.6, 54.2, 53.9, 54.3, 53.9, 54.2, 53.8, 54.1, 53.7, 54.0, 53.7, 54.1, 53.8, 54.2,
     53.9, 54.3, 53.9, 53.6, 54.0, 53.7, 54.1, 53.8, 54.1, 53.9],
    [53.8, 54.1, 53.7, 54.0, 53.6, 53.9, 54.2, 53.8, 54.1, 53.7, 54.0, 53.6, 53.9, 53.5, 53.8, 54.1, 53.7, 54.0, 53.6, 53.9, 53.8,
     52.6, 52.0, 51.6, 52.0, 51.5, 51.9, 51.4, 51.8, 51.2, 50.6,
     54.2, 54.6, 54.9, 54.5, 54.8, 54.4, 54.0, 54.3, 53.9, 53.6, 54.0, 53.7, 54.1, 53.8, 53.5, 53.9, 53.6, 54.0, 53.7, 53.4,
     53.8, 53.5, 53.9, 53.6, 54.0, 53.7, 53.4, 53.8, 53.5, 53.6],
    [54.7, 54.3, 54.7, 54.4, 54.8, 54.5, 54.2, 54.6, 54.3, 54.7, 54.4, 54.1, 54.5, 54.2, 54.6, 54.3, 54.0, 54.4, 54.1, 54.5, 54.6,
     52.8, 52.2, 51.8, 52.3, 51.7, 52.1, 51.6, 52.2, 51.5, 50.7,
     54.5, 54.7, 55.0, 54.6, 54.9, 54.5, 54.2, 54.5, 54.1, 54.4, 54.0, 54.3, 53.9, 54.2, 53.8, 54.2, 53.9, 54.3, 54.0, 53.7,
     54.1, 53.8, 54.2, 53.9, 54.3, 54.0, 54.4, 54.1, 54.3, 54.4],
    [53.6, 53.3, 53.7, 53.4, 53.8, 53.5, 53.9, 53.6, 53.3, 53.7, 53.4, 53.8, 53.5, 53.2, 53.6, 53.3, 53.7, 53.4, 53.8, 53.5, 53.7,
     52.3, 51.8, 51.3, 51.7, 51.2, 51.6, 51.1, 51.5, 50.9, 50.2,
     53.9, 54.3, 54.0, 54.4, 54.0, 53.7, 54.1, 53.7, 53.4, 53.8, 53.4, 53.1, 53.5, 53.2, 53.6, 53.3, 53.0, 53.4, 53.1, 53.5,
     53.2, 52.9, 53.3, 53.0, 53.4, 53.1, 53.5, 53.2, 53.4, 53.2],
    [54.3, 54.0, 54.4, 54.1, 53.8, 54.2, 53.9, 54.3, 54.0, 54.4, 54.1, 53.8, 54.2, 53.9, 54.3, 54.0, 54.4, 54.1, 53.8, 54.2, 54.1,
     52.6, 52.1, 51.5, 52.0, 51.4, 51.9, 52.3, 51.7, 51.3, 50.4,
     54.3, 54.7, 55.0, 54.7, 54.3, 54.6, 54.2, 53.9, 54.3, 54.0, 54.4, 54.1, 53.8, 54.2, 53.9, 53.6, 54.0, 53.7, 54.1, 53.8,
     53.5, 53.9, 53.6, 54.0, 53.7, 54.1, 53.8, 53.5, 53.9, 53.7],
    [53.9, 54.3, 53.9, 54.2, 53.8, 54.1, 53.7, 54.0, 54.4, 54.0, 54.3, 53.9, 54.2, 53.8, 54.1, 53.7, 54.0, 54.3, 53.9, 54.2, 54.0,
     52.5, 51.7, 51.5, 51.9, 51.4, 51.8, 51.3, 51.7, 51.1, 50.5,
     54.1, 54.5, 54.2, 54.6, 54.3, 53.9, 54.2, 53.8, 54.1, 53.7, 54.0, 53.6, 53.9, 53.5, 53.8, 53.4, 53.7, 53.3, 53.6, 53.9,
     53.5, 53.8, 53.4, 53.7, 53.3, 53.6, 53.9, 53.5, 53.8, 53.5],
]

PANELS = [
    # label, label position (px), y title, black runs, gray runs, y ticks, y range, gray on top
    ("(A)", (11.5, 7.5), "Biomass to K (%)", BIOMASS_BLACK, BIOMASS_GRAY, [20, 40, 60, 80, 100], [6.4, 103.6], True),
    ("(B)", (375.5, 7.5), "Asymptotic length (cm)", LINF_BLACK, LINF_GRAY, [70, 75, 80, 85], [69.42, 85.6], False),
    ("(C)", (12.0, 323.0), "Age (year)", AGE_BLACK, AGE_GRAY, [5, 6, 7, 8], [4.33, 8.66], False),
    ("(D)", (375.5, 323.0), "Length (cm)", LENGTH_BLACK, LENGTH_GRAY, [46, 48, 50, 52, 54, 56], [44.52, 57.47], False),
]

for p in PANELS:
    for s in p[3] + p[4]:
        assert len(s) == len(YEARS), len(s)

# ---------------- layout geometry (pixels in a 709 x 650 canvas) ----------------
W, H = 709, 650
BLACK = "#000000"
GRAY = "#a3a3a3"
FONT = "Liberation Sans, Arial, Helvetica, sans-serif"

# plot boxes: (left, right, top, bottom) in px
BOXES = [(51.0, 340.7, 0.5, 280.0), (418.6, 707.3, 0.5, 280.0),
         (51.0, 340.7, 323.3, 602.5), (418.6, 707.3, 323.3, 602.5)]

fig = go.Figure()
layout = dict(width=W, height=H, margin=dict(l=0, r=0, t=0, b=0, autoexpand=False),
              paper_bgcolor="white", plot_bgcolor="white", showlegend=False,
              font=dict(family=FONT, color="black", size=12))
annotations = []
shapes = []

for i, (lab, lab_xy, ytitle, blk, gry, yt, yr, gray_top) in enumerate(PANELS):
    n = "" if i == 0 else str(i + 1)
    xa, ya = "x" + n, "y" + n
    if gray_top:
        order = [(s, BLACK) for s in blk] + [(s, GRAY) for s in gry]
    else:
        order = []
        for b, g in zip(blk, gry):
            order += [(b, BLACK), (g, GRAY)]
    for s, col in order:
        fig.add_trace(go.Scatter(x=YEARS, y=s, mode="lines", xaxis=xa, yaxis=ya,
                                 line=dict(color=col, width=1.2), hoverinfo="skip"))
    l, r, t, b = BOXES[i]
    common = dict(showline=True, mirror=True, linecolor=BLACK, linewidth=1,
                  ticks="outside", ticklen=8, tickwidth=1, tickcolor=BLACK, automargin=False,
                  ticklabeloverflow="allow",
                  showgrid=False, zeroline=False, tickfont=dict(size=12, color=BLACK, family=FONT))
    layout["xaxis" + n] = dict(domain=[l / W, r / W], anchor=ya, range=[-12, 312],
                               tickvals=X_TICKS, **common)
    layout["yaxis" + n] = dict(domain=[1 - b / H, 1 - t / H], anchor=xa, range=yr,
                               tickvals=yt, tickangle=-90, ticklabelstandoff=4, **common)
    for xv in PERIOD_LINES:
        shapes.append(dict(type="line", xref=xa, yref=ya + " domain", x0=xv, x1=xv, y0=0, y1=1,
                           line=dict(color=BLACK, width=1.3, dash="5px,3px")))
    # panel label
    annotations.append(dict(text=lab, x=lab_xy[0] / W, y=1 - lab_xy[1] / H,
                            xref="paper", yref="paper", showarrow=False,
                            xanchor="center", yanchor="middle", font=dict(size=12, family=FONT)))
    # y title
    annotations.append(dict(text=ytitle, x=(l - 42.8) / W, y=1 - ((t + b) / 2) / H,
                            xref="paper", yref="paper", showarrow=False, textangle=-90,
                            xanchor="center", yanchor="middle", font=dict(size=15, family=FONT)))

annotations.append(dict(text="Time (year)", x=364 / W, y=1 - 639 / H, xref="paper", yref="paper",
                        showarrow=False, xanchor="center", yanchor="middle",
                        font=dict(size=15, family=FONT)))

layout["annotations"] = annotations
layout["shapes"] = shapes
fig.update_layout(**layout)
# remove the browser's default 8px page margin so the figure fills the 709x650 window
fig.write_html("out.html", config={"displayModeBar": False},
               post_script="document.body.style.margin='0px';document.body.style.overflow='hidden';")
